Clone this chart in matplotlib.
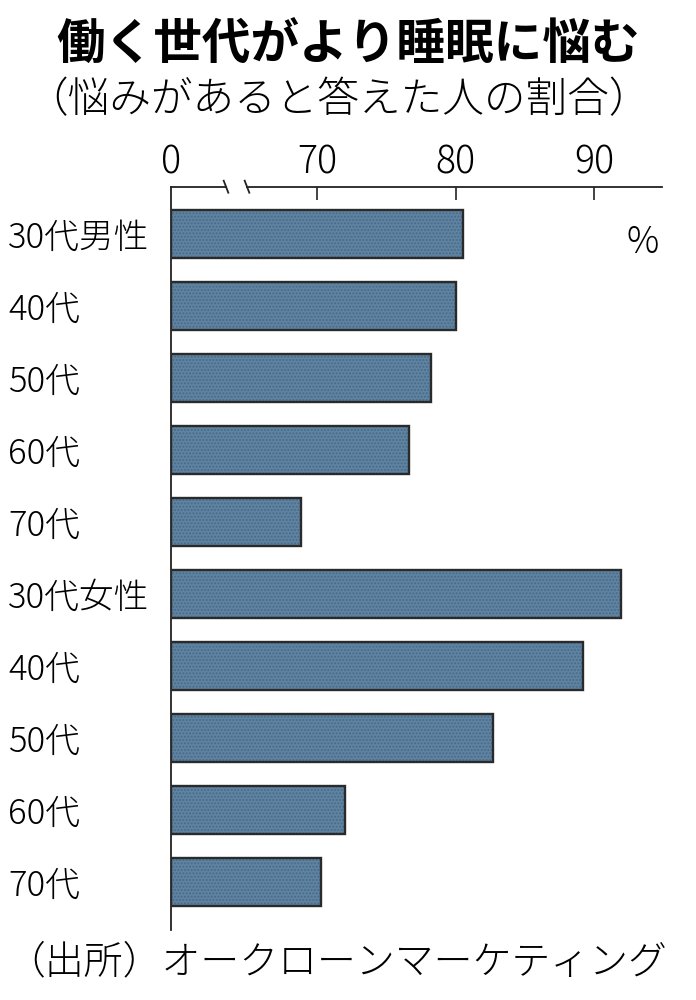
import matplotlib
matplotlib.use("Agg")
import matplotlib.pyplot as plt
from matplotlib.transforms import blended_transform_factory

plt.rcParams['font.family'] = ['Noto Sans CJK JP', 'DejaVu Sans']

categories = ["30代男性", "40代", "50代", "60代", "70代",
              "30代女性", "40代", "50代", "60代", "70代"]
values = [80.5, 80.0, 78.2, 76.6, 68.8, 91.9, 89.2, 82.7, 72.0, 70.3]
tick_values = [70, 80, 90]
tick_labels = ["70", "80", "90"]
axis_start = 59.44
axis_start_label = "0"

fig = plt.figure(figsize=(6.96, 10), dpi=100)
ax = fig.add_axes([171/696, 1-930/1000, (662-171)/696, (930-186.7)/1000])

ypos = list(range(len(categories)))
bar_h = 0.667
lefts = [axis_start] * len(values)
widths = [v - axis_start for v in values]
ax.barh(ypos, widths, left=lefts, height=bar_h, color='#5f84a3',
        edgecolor='#4a6a85', hatch='.....', linewidth=0, zorder=2)
ax.barh(ypos, widths, left=lefts, height=bar_h, facecolor='none',
        edgecolor='#2a2a2a', linewidth=1.7, zorder=3)

ax.set_xlim(axis_start, 94.89)
ax.set_ylim(9.67, -0.657)

ax.xaxis.tick_top()
ax.set_xticks([axis_start] + tick_values)
ax.set_xticklabels([axis_start_label] + tick_labels, fontsize=27, fontweight='light')
ax.tick_params(axis='x', direction='in', length=9, width=1.2, pad=3, color='#222222')
ax.xaxis.get_major_ticks()[0].tick2line.set_visible(False)
ax.xaxis.get_major_ticks()[0].tick1line.set_visible(False)

ax.set_yticks(ypos)
ax.set_yticklabels(categories, fontsize=25, ha='left', fontweight='light')
ax.tick_params(axis='y', length=0, pad=(171-8)*0.72)

for s in ['right', 'bottom']:
    ax.spines[s].set_visible(False)
ax.spines['top'].set_linewidth(1.3)
ax.spines['left'].set_linewidth(1.3)
ax.spines['top'].set_color('#222222')
ax.spines['left'].set_color('#222222')

# axis break marks
tr = blended_transform_factory(ax.transData, ax.transAxes)
px = 1/13.85
b1 = axis_start + (226-171)*px
b2 = axis_start + (247-171)*px
ax.plot([b1 + 1.2*px, b2 - 1.2*px], [1, 1], color='white', lw=3, transform=tr,
        clip_on=False, zorder=5, solid_capstyle='butt')
dy = 6/743.3
for b in (b1, b2):
    ax.plot([b - 2.3*px, b + 2.3*px], [1 + dy, 1 - dy], color='#222222', lw=1.3,
            transform=tr, clip_on=False, zorder=6)

fig.text(643/696, 1-243/1000, "%", fontsize=26, ha='center', va='center',
         fontweight='light')

fig.text(0.5, 1-45/1000, "働く世代がより睡眠に悩む", fontsize=35, fontweight='bold',
         ha='center', va='center')
fig.text(338/696, 1-100/1000, "（悩みがあると答えた人の割合）", fontsize=30,
         ha='center', va='center', fontweight='light')
fig.text(6/696, 1-963/1000, "（出所）オークローンマーケティング", fontsize=28,
         ha='left', va='center', fontweight='light')

fig.savefig("out.png", dpi=100)
